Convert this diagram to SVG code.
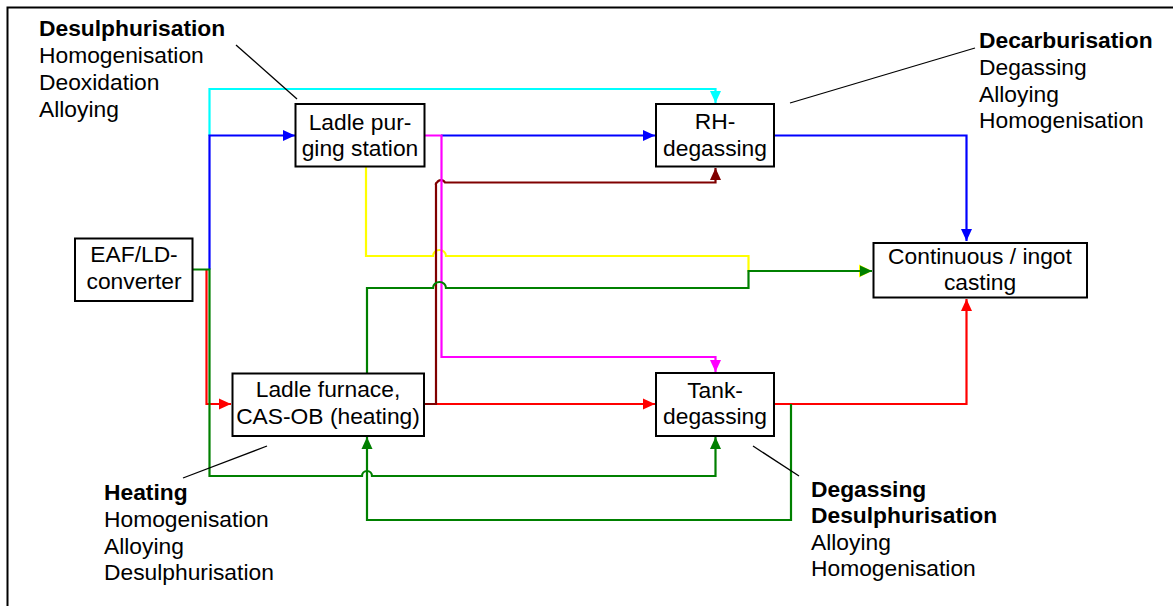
<svg xmlns="http://www.w3.org/2000/svg" width="1173" height="606" viewBox="0 0 1173 606">
<style>
text{font-family:"Liberation Sans",Arial,sans-serif;font-size:22.8px;fill:#000}
.c{text-anchor:middle}
.b{font-weight:bold}
.box{fill:#fff;stroke:#000;stroke-width:2}
.ln{fill:none;stroke-width:2.2;stroke-linejoin:miter}
.ld{stroke:#000;stroke-width:1.3;fill:none}
</style>
<defs>
<marker id="aB" markerUnits="userSpaceOnUse" markerWidth="14" markerHeight="12" refX="12" refY="6" orient="auto"><path d="M0,0.5 L12,6 L0,11.5z" fill="#0000ff"/></marker>
<marker id="aC" markerUnits="userSpaceOnUse" markerWidth="14" markerHeight="12" refX="12" refY="6" orient="auto"><path d="M0,0.5 L12,6 L0,11.5z" fill="#00ffff"/></marker>
<marker id="aR" markerUnits="userSpaceOnUse" markerWidth="14" markerHeight="12" refX="12" refY="6" orient="auto"><path d="M0,0.5 L12,6 L0,11.5z" fill="#ff0000"/></marker>
<marker id="aM" markerUnits="userSpaceOnUse" markerWidth="14" markerHeight="12" refX="12" refY="6" orient="auto"><path d="M0,0.5 L12,6 L0,11.5z" fill="#800000"/></marker>
<marker id="aP" markerUnits="userSpaceOnUse" markerWidth="14" markerHeight="12" refX="12" refY="6" orient="auto"><path d="M0,0.5 L12,6 L0,11.5z" fill="#ff00ff"/></marker>
<marker id="aG" markerUnits="userSpaceOnUse" markerWidth="14" markerHeight="12" refX="12" refY="6" orient="auto"><path d="M0,0.5 L12,6 L0,11.5z" fill="#008000"/></marker>
<marker id="aY" markerUnits="userSpaceOnUse" markerWidth="16" markerHeight="14" refX="13" refY="7" orient="auto"><path d="M0,0.5 L13,7 L0,13.5z" fill="#ffff00"/></marker>
</defs>
<rect width="1173" height="606" fill="#fff"/>
<path d="M7.5,606 V7.5 H1173" fill="none" stroke="#000" stroke-width="2"/>
<g id="connectors">
<path class="ln" stroke="#00ffff" d="M209.5,136 V89 H715.5 V103" marker-end="url(#aC)"/>
<path class="ln" stroke="#0000ff" d="M209.5,269.5 V135.5 H295" marker-end="url(#aB)"/>
<path class="ln" stroke="#0000ff" d="M441,135.5 H655" marker-end="url(#aB)"/>
<path class="ln" stroke="#0000ff" d="M774,135.5 H966.5 V241" marker-end="url(#aB)"/>
<path class="ln" stroke="#ffff00" stroke-width="2.6" d="M366,166 V256 H433 a6.5,6 0 0 1 13,0 H748.5 V271 H872" marker-end="url(#aY)"/>
<path class="ln" stroke="#ff0000" d="M206.5,269.5 V404 H231" marker-end="url(#aR)"/>
<path class="ln" stroke="#ff0000" d="M436,404 H655" marker-end="url(#aR)"/>
<path class="ln" stroke="#ff0000" d="M774,404 H966.5 V299" marker-end="url(#aR)"/>
<path class="ln" stroke="#800000" d="M424,404 H436 V185 a2,2 0 0 1 1,-2.5 a4.5,4.5 0 0 1 8,0 H715.5 V168" marker-end="url(#aM)"/>
<path class="ln" stroke="#ff00ff" d="M424,135.5 H441.5 V357 H715.5 V372" marker-end="url(#aP)"/>
<path class="ln" stroke="#008000" d="M192.5,269.5 H209.5 V476 H362 a5,5 0 0 1 10,0 H715.5 V437" marker-end="url(#aG)"/>
<path class="ln" stroke="#008000" d="M367,373 V288 H433 a6.5,6 0 0 1 13,0 H748.5 V271 H872" marker-end="url(#aG)"/>
<path class="ln" stroke="#008000" d="M791,404 V520 H367 V437" marker-end="url(#aG)"/>
</g>
<g id="leaders">
<path class="ld" d="M236,45 L297,99"/>
<path class="ld" d="M790,103 L975,48"/>
<path class="ld" d="M267,446 L183,478"/>
<path class="ld" d="M753,446 L799,476"/>
</g>
<g id="purging">
<rect class="box" x="295.5" y="104" width="129" height="62.5"/>
<text class="c" x="360" y="129.5">Ladle pur-</text>
<text class="c" x="360" y="155.5">ging station</text>
</g>
<g id="rh">
<rect class="box" x="656" y="104" width="118" height="62.5"/>
<text class="c" x="715" y="129">RH-</text>
<text class="c" x="715" y="155.5">degassing</text>
</g>
<g id="eaf">
<rect class="box" x="75" y="238.5" width="117.5" height="62.5"/>
<text class="c" x="134" y="262">EAF/LD-</text>
<text class="c" x="134" y="288.5">converter</text>
</g>
<g id="casting">
<rect class="box" x="873.5" y="243" width="213.5" height="54.5"/>
<text class="c" x="980" y="263.5">Continuous / ingot</text>
<text class="c" x="980" y="290">casting</text>
</g>
<g id="ladlefurnace">
<rect class="box" x="232.5" y="373.5" width="191.5" height="62.5"/>
<text class="c" x="328" y="397">Ladle furnace,</text>
<text class="c" x="328" y="424">CAS-OB (heating)</text>
</g>
<g id="tank">
<rect class="box" x="656" y="373" width="118" height="63"/>
<text class="c" x="715" y="397.5">Tank-</text>
<text class="c" x="715" y="423.5">degassing</text>
</g>
<g id="note-purging">
<text class="b" x="39" y="36">Desulphurisation</text>
<text x="39" y="63">Homogenisation</text>
<text x="39" y="90">Deoxidation</text>
<text x="39" y="117">Alloying</text>
</g>
<g id="note-rh">
<text class="b" x="979" y="48">Decarburisation</text>
<text x="979" y="75">Degassing</text>
<text x="979" y="101.5">Alloying</text>
<text x="979" y="128">Homogenisation</text>
</g>
<g id="note-lf">
<text class="b" x="104" y="500">Heating</text>
<text x="104" y="527">Homogenisation</text>
<text x="104" y="554">Alloying</text>
<text x="104" y="580">Desulphurisation</text>
</g>
<g id="note-tank">
<text class="b" x="811" y="497">Degassing</text>
<text class="b" x="811" y="523">Desulphurisation</text>
<text x="811" y="550">Alloying</text>
<text x="811" y="576">Homogenisation</text>
</g>
</svg>
